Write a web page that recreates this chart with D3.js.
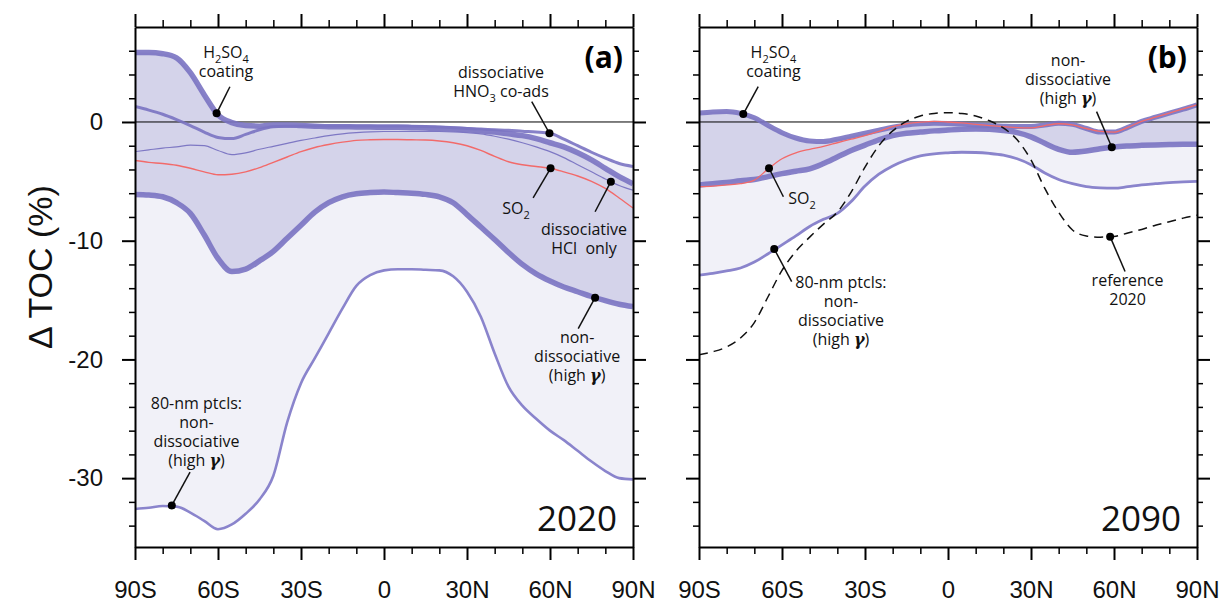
<!DOCTYPE html>
<html>
<head>
<meta charset="utf-8">
<script src="https://cdn.jsdelivr.net/npm/d3@7/dist/d3.min.js"></script>
<style>
  html, body { margin: 0; padding: 0; background: #fff; }
  svg { display: block; }
  .ann { font-family: "Open Sans", sans-serif; font-size: 16px; fill: #111; white-space: pre; }
  .axis text { font-family: "Liberation Sans", Arial, sans-serif; font-size: 24px; fill: #111; }
</style>
</head>
<body>
<svg id="chart" width="1225" height="605"></svg>
<script>
// ---------------- DATA ----------------
const lat = [-90,-85,-80,-75,-70,-65,-60,-55,-50,-45,-40,-35,-30,-25,-20,-15,-10,-5,0,5,10,15,20,25,30,35,40,45,50,55,60,65,70,75,80,85,90];

// Panel (a) 2020
const a_h2so4   = [5.85,5.85,5.75,5.4,4.15,2.3,0.6,-0.05,-0.3,-0.35,-0.25,-0.25,-0.3,-0.35,-0.4,-0.4,-0.42,-0.42,-0.45,-0.45,-0.48,-0.5,-0.55,-0.6,-0.65,-0.75,-0.85,-1.0,-1.15,-1.4,-1.75,-2.1,-2.6,-3.2,-3.9,-4.6,-5.2];
const a_hno3    = [1.3,1.0,0.65,0.2,-0.3,-0.85,-1.3,-1.4,-1.05,-0.65,-0.4,-0.35,-0.33,-0.33,-0.33,-0.33,-0.33,-0.33,-0.33,-0.34,-0.35,-0.38,-0.42,-0.48,-0.55,-0.6,-0.65,-0.7,-0.78,-0.85,-0.95,-1.45,-2.0,-2.55,-3.05,-3.5,-3.75];
const a_hcl     = [-2.5,-2.35,-2.2,-2.1,-1.95,-2.0,-2.4,-2.75,-2.6,-2.3,-2.05,-1.8,-1.55,-1.35,-1.15,-1.0,-0.9,-0.83,-0.8,-0.8,-0.8,-0.8,-0.8,-0.83,-0.9,-1.0,-1.2,-1.45,-1.75,-2.1,-2.5,-3.0,-3.6,-4.2,-4.8,-5.35,-5.75];
const a_so2     = [-3.25,-3.4,-3.5,-3.65,-3.9,-4.2,-4.45,-4.4,-4.2,-3.85,-3.4,-2.95,-2.5,-2.15,-1.9,-1.7,-1.55,-1.5,-1.48,-1.48,-1.5,-1.52,-1.6,-1.75,-2.0,-2.4,-2.9,-3.35,-3.6,-3.75,-3.9,-4.2,-4.55,-5.0,-5.6,-6.4,-7.25];
const a_nondiss = [-6.1,-6.15,-6.3,-6.8,-7.7,-9.5,-11.5,-12.6,-12.4,-11.7,-10.9,-9.8,-8.7,-7.6,-6.8,-6.3,-6.05,-5.95,-5.9,-5.95,-6.0,-6.1,-6.3,-6.8,-7.8,-8.85,-9.9,-11.0,-12.0,-12.8,-13.4,-13.9,-14.3,-14.7,-15.05,-15.35,-15.55];
const a_nm80    = [-32.6,-32.5,-32.35,-32.4,-32.9,-33.6,-34.3,-33.9,-33.0,-31.8,-29.8,-25.3,-22.0,-19.9,-17.8,-15.7,-13.8,-12.9,-12.5,-12.4,-12.4,-12.45,-12.5,-13.0,-14.3,-16.4,-19.5,-22.3,-23.9,-25.0,-26.0,-26.8,-27.7,-28.6,-29.4,-30.0,-30.1];

// Panel (b) 2090
const b_h2so4   = [0.75,0.85,0.88,0.72,0.35,-0.3,-0.9,-1.35,-1.6,-1.65,-1.45,-1.2,-0.95,-0.7,-0.45,-0.25,-0.15,-0.1,-0.12,-0.18,-0.25,-0.3,-0.35,-0.38,-0.38,-0.25,-0.1,-0.2,-0.55,-0.85,-0.85,-0.45,0.05,0.4,0.75,1.08,1.45];
const b_so2     = [-5.45,-5.4,-5.3,-5.2,-4.9,-3.95,-3.1,-2.6,-2.3,-2.05,-1.75,-1.45,-1.15,-0.8,-0.4,-0.15,-0.02,0.05,0.0,-0.08,-0.2,-0.3,-0.4,-0.48,-0.5,-0.3,-0.15,-0.25,-0.55,-0.8,-0.85,-0.45,0.05,0.4,0.75,1.1,1.45];
const b_nondiss = [-5.3,-5.2,-5.1,-4.95,-4.85,-4.6,-4.35,-4.15,-3.95,-3.5,-2.95,-2.4,-1.95,-1.5,-1.15,-0.95,-0.85,-0.75,-0.68,-0.62,-0.6,-0.62,-0.72,-0.9,-1.25,-1.8,-2.3,-2.55,-2.45,-2.25,-2.1,-2.02,-1.97,-1.93,-1.9,-1.88,-1.88];
const b_nm80    = [-12.9,-12.75,-12.55,-12.3,-11.8,-11.1,-10.35,-9.6,-8.8,-8.2,-7.7,-6.7,-5.4,-4.4,-3.7,-3.2,-2.85,-2.68,-2.6,-2.55,-2.57,-2.65,-2.8,-3.1,-3.6,-4.3,-4.85,-5.2,-5.45,-5.55,-5.58,-5.45,-5.3,-5.2,-5.1,-5.05,-5.0];
const b_ref2020 = [-19.6,-19.35,-18.95,-18.2,-16.9,-14.7,-12.5,-10.9,-9.7,-8.6,-7.6,-5.9,-3.8,-2.0,-0.75,0.05,0.5,0.72,0.78,0.72,0.5,0.1,-0.5,-1.5,-3.2,-5.6,-7.6,-9.1,-9.6,-9.7,-9.65,-9.35,-9.05,-8.7,-8.4,-8.1,-7.85];

// Axis ticks
const xMajor = [-90,-60,-30,0,30,60,90];
const xMinor = [-80,-70,-50,-40,-20,-10,10,20,40,50,70,80];
const yMajor = [-30,-20,-10,0];
const yMinor = [-34,-32,-28,-26,-24,-22,-18,-16,-14,-12,-8,-6,-4,-2,2,4,6];
const yDomain = [-35.8, 8];
const xLabel = d => d === 0 ? "0" : (Math.abs(d) + (d < 0 ? "S" : "N"));
const yLabel = d => String(d);

// Annotations (data coordinates: text anchor, dot, leader end)
const annA = [
  {lines:["H_2SO_4","coating"], t:[-57.1,5.4], dot:[-60.5,0.73], lead:[-55.7,2.97]},
  {lines:["dissociative","HNO_3 co-ads"], t:[42.3,3.71], dot:[59.8,-0.95], lead:[53.4,1.71]},
  {lines:["SO_2"], t:[47.7,-7.75], dot:[60.2,-3.9], lead:[53.9,-6.4]},
  {lines:["dissociative","HCl\u00a0 only"], t:[72.3,-9.52], dot:[82,-5.03], lead:[76.3,-7.56]},
  {lines:["non-","dissociative","(high *γ*)"], t:[69.8,-18.6], dot:[76.3,-14.8], lead:[70.2,-17.4]},
  {lines:["80-nm ptcls:","non-","dissociative","(high *γ*)"], t:[-67.8,-24.2], dot:[-76.7,-32.3], lead:[-70.1,-29.5]}
];
const annB = [
  {lines:["H_2SO_4","coating"], t:[-63.1,5.4], dot:[-74,0.67], lead:[-68.6,2.97]},
  {lines:["SO_2"], t:[-52.8,-6.95], dot:[-64.7,-3.9], lead:[-59.5,-6.3]},
  {lines:["80-nm ptcls:","non-","dissociative","(high *γ*)"], t:[-38.7,-14.0], dot:[-62.8,-10.7], lead:[-56.5,-13.45]},
  {lines:["non-","dissociative","(high *γ*)"], t:[43.4,4.72], dot:[59.2,-2.13], lead:[53.7,0.87]},
  {lines:["reference","2020"], t:[64.9,-13.8], dot:[58.6,-9.66], lead:[64,-12.6]}
];

// ---------------- DRAWING ----------------
const svg = d3.select("#chart");
const C = {dark:"#d4d3ea", light:"#f1f1f8", thick:"#7a73c2", thin:"#8a84cc", red:"#f26a6a"};

const y = d3.scaleLinear().domain(yDomain).range([547, 27]);
const curve = d3.curveMonotoneX;
const LINE_H = 19, SUB = 5;

// one <text> per annotation, one tspan per line; "_x" subscript, "*..*" bold italic
function annText(sel, lines, xPos) {
  let carry = 0;
  lines.forEach((str, k) => {
    const re = /(_\d)|(\*[^*]+\*)|([^_*]+)/g;
    let m, first = true, shifted = false;
    while ((m = re.exec(str)) !== null) {
      const t = sel.append("tspan");
      let dy = 0;
      if (first) { t.attr("x", xPos); dy = (k === 0 ? 0 : LINE_H) - carry; carry = 0; first = false; }
      if (m[1]) {
        if (!shifted) dy += SUB;
        t.attr("font-size", 11).attr("dy", dy).text(m[1].slice(1));
        shifted = true;
      } else {
        if (shifted) dy -= SUB;
        t.attr("dy", dy).text(m[2] ? m[2].slice(1, -1) : m[3]);
        if (m[2]) t.attr("font-weight", "bold").attr("font-style", "italic").attr("font-family", "DejaVu Serif");
        shifted = false;
      }
    }
    if (shifted) carry = SUB;
  });
}

function panel(x0, x1, cfg) {
  const x = d3.scaleLinear().domain([-90, 90]).range([x0, x1]);
  const g = svg.append("g");
  const clip = "clip" + x0;
  svg.append("clipPath").attr("id", clip).append("rect")
    .attr("x", x0).attr("y", y(yDomain[1])).attr("width", x1 - x0).attr("height", y(yDomain[0]) - y(yDomain[1]));
  const p = g.append("g").attr("clip-path", `url(#${clip})`);

  const band = (lo, hi) => d3.area().curve(curve).x((d, i) => x(lat[i])).y0((d, i) => y(lo[i])).y1((d, i) => y(hi[i]));
  const line = (s) => d3.line().curve(curve).x((d, i) => x(lat[i])).y((d, i) => y(s[i]));

  cfg.lightBands.forEach(([lo, hi]) => p.append("path").attr("d", band(lo, hi)(lat)).attr("fill", C.light));
  p.append("path").attr("d", band(cfg.darkLo, cfg.darkHi)(lat)).attr("fill", C.dark);

  // zero line
  p.append("line").attr("x1", x0).attr("x2", x1).attr("y1", y(0)).attr("y2", y(0))
    .attr("stroke", "#000").attr("stroke-width", 1);

  cfg.lines.forEach(l => {
    p.append("path").attr("d", line(l.s)(lat)).attr("fill", "none")
      .attr("stroke", l.c).attr("stroke-width", l.w).attr("stroke-opacity", l.o || 1)
      .attr("stroke-dasharray", l.dash || null).attr("stroke-linejoin", "round");
  });

  // annotations
  cfg.ann.forEach(a => {
    g.append("line").attr("x1", x(a.dot[0])).attr("y1", y(a.dot[1]))
      .attr("x2", x(a.lead[0])).attr("y2", y(a.lead[1])).attr("stroke", "#111").attr("stroke-width", 1.5);
    g.append("circle").attr("cx", x(a.dot[0])).attr("cy", y(a.dot[1])).attr("r", 4).attr("fill", "#000");
    const t = g.append("text").attr("class", "ann").attr("text-anchor", "middle")
      .attr("x", x(a.t[0])).attr("y", y(a.t[1]));
    annText(t, a.lines, x(a.t[0]));
  });

  // panel letter and year
  g.append("text").attr("x", x1 - 10).attr("y", y(yDomain[1]) + 41).attr("text-anchor", "end")
    .attr("font-family", "Open Sans, sans-serif").attr("font-weight", "bold").attr("font-size", 30).text(cfg.letter);
  g.append("text").attr("x", x1 - 16).attr("y", y(yDomain[0]) - 16).attr("text-anchor", "end")
    .attr("font-family", "Open Sans, sans-serif").attr("font-size", 35).attr("fill", "#111").text(cfg.year);

  // axes
  const ax = (gen, vals, size, fmt, pad) => gen.tickValues(vals).tickSize(size).tickSizeOuter(0).tickFormat(fmt).tickPadding(pad || 3);
  const style = (sel, w) => { sel.selectAll("line").attr("stroke", "#000").attr("stroke-width", w); sel.selectAll(".domain").attr("stroke", "#000").attr("stroke-width", 2); };
  const addAxis = (tr, gen, vals, size, fmt, pad, w, cls) => {
    const a = g.append("g").attr("class", "axis").attr("transform", tr).call(ax(gen, vals, size, fmt, pad));
    style(a, w);
    if (cls === "minor") a.select(".domain").remove();
    return a;
  };
  const yb = y(yDomain[0]), yt = y(yDomain[1]);
  addAxis(`translate(0,${yb})`, d3.axisBottom(x), xMajor, 13, xLabel, 21, 2);
  addAxis(`translate(0,${yb})`, d3.axisBottom(x), xMinor, 7, "", 3, 1.5, "minor");
  addAxis(`translate(0,${yt})`, d3.axisTop(x), xMajor, 13, "", 3, 2);
  addAxis(`translate(0,${yt})`, d3.axisTop(x), xMinor, 7, "", 3, 1.5, "minor");
  addAxis(`translate(${x0},0)`, d3.axisLeft(y), yMajor, 13, cfg.yLabels ? yLabel : "", 19, 2);
  addAxis(`translate(${x0},0)`, d3.axisLeft(y), yMinor, 6, "", 3, 1.5, "minor");
  addAxis(`translate(${x1},0)`, d3.axisRight(y), yMajor, 13, "", 3, 2);
  addAxis(`translate(${x1},0)`, d3.axisRight(y), yMinor, 6, "", 3, 1.5, "minor");
  g.selectAll(".axis text").attr("fill", "#111");
}

panel(135, 633, {
  letter: "(a)", year: "2020", yLabels: true,
  lightBands: [[a_nm80, a_h2so4], [a_nm80, a_hno3]],
  darkLo: a_nondiss, darkHi: a_h2so4,
  lines: [
    {s: a_nm80, c: C.thin, w: 2.6},
    {s: a_nondiss, c: C.thick, w: 5.5, o: 0.9},
    {s: a_hcl, c: "#7e78c4", w: 1.2},
    {s: a_so2, c: C.red, w: 1.4},
    {s: a_hno3, c: C.thick, w: 3, o: 0.9},
    {s: a_h2so4, c: C.thick, w: 5.5, o: 0.9}
  ],
  ann: annA
});

panel(699, 1197, {
  letter: "(b)", year: "2090", yLabels: false,
  lightBands: [[b_nm80, b_h2so4]],
  darkLo: b_nondiss, darkHi: b_h2so4,
  lines: [
    {s: b_nm80, c: C.thin, w: 2.8},
    {s: b_nondiss, c: C.thick, w: 5.5, o: 0.9},
    {s: b_h2so4, c: C.thick, w: 5, o: 0.9},
    {s: b_so2, c: C.red, w: 1.3},
    {s: b_ref2020, c: "#111", w: 1.5, dash: "9,6"}
  ],
  ann: annB
});

// y-axis title
svg.append("text").attr("transform", `translate(52,${(y(yDomain[0]) + y(yDomain[1])) / 2 - 20}) rotate(-90)`)
  .attr("text-anchor", "middle").attr("font-family", "Liberation Sans, Arial, sans-serif")
  .attr("font-size", 34).attr("fill", "#111").text("\u0394 TOC (%)");
</script>
</body>
</html>
